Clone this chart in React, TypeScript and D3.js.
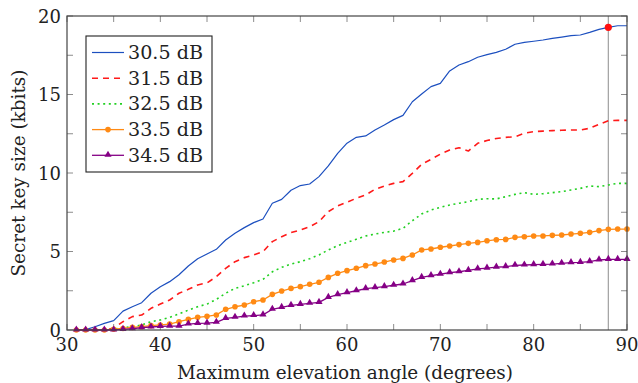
import React, { useEffect, useRef } from 'react';
import * as d3 from 'd3';

// elevation angles 31..90 degrees
const angles = [
  31, 32, 33, 34, 35, 36, 37, 38, 39, 40, 41, 42, 43, 44, 45, 46, 47, 48, 49, 50,
  51, 52, 53, 54, 55, 56, 57, 58, 59, 60, 61, 62, 63, 64, 65, 66, 67, 68, 69, 70,
  71, 72, 73, 74, 75, 76, 77, 78, 79, 80, 81, 82, 83, 84, 85, 86, 87, 88, 89, 90,
];

const s305 = [
  0, 0.02, 0.21, 0.42, 0.6, 1.2, 1.48, 1.74, 2.34, 2.76, 3.08, 3.52, 4.08, 4.54, 4.84, 5.14, 5.73, 6.16, 6.52, 6.84,
  7.07, 8.07, 8.32, 8.9, 9.2, 9.3, 9.77, 10.45, 11.25, 11.9, 12.27, 12.36, 12.74, 13.06, 13.4, 13.67, 14.54, 15.03, 15.5, 15.71,
  16.5, 16.88, 17.09, 17.37, 17.54, 17.68, 17.88, 18.2, 18.32, 18.39, 18.47, 18.58, 18.66, 18.75, 18.79, 18.96, 19.15, 19.28, 19.38, 19.38,
];
const s315 = [
  0, 0, 0, 0, 0.12, 0.53, 0.85, 0.95, 1.38, 1.65, 1.91, 2.34, 2.59, 2.87, 3.0, 3.4, 3.93, 4.35, 4.61, 4.78,
  4.99, 5.63, 5.94, 6.2, 6.37, 6.58, 6.9, 7.54, 7.9, 8.14, 8.39, 8.6, 8.96, 9.17, 9.34, 9.45, 9.98, 10.55, 10.87, 11.2,
  11.46, 11.61, 11.4, 11.89, 12.07, 12.2, 12.27, 12.31, 12.53, 12.63, 12.67, 12.7, 12.72, 12.74, 12.74, 12.85, 13.1, 13.33, 13.35, 13.35,
];
const s325 = [
  0, 0, 0, 0, 0.05, 0.15, 0.21, 0.32, 0.53, 0.64, 0.81, 1.02, 1.27, 1.48, 1.65, 1.95, 2.34, 2.65, 2.82, 3.01,
  3.23, 3.71, 3.99, 4.2, 4.35, 4.54, 4.78, 5.1, 5.37, 5.58, 5.78, 5.99, 6.11, 6.22, 6.3, 6.48, 6.96, 7.39, 7.64, 7.81,
  7.96, 8.07, 8.17, 8.32, 8.36, 8.35, 8.49, 8.64, 8.75, 8.64, 8.68, 8.75, 8.81, 8.92, 9.02, 9.17, 9.13, 9.24, 9.34, 9.34,
];
const s335 = [
  0, 0, 0, 0, 0.05, 0.1, 0.17, 0.21, 0.28, 0.32, 0.38, 0.53, 0.68, 0.81, 0.87, 0.96, 1.32, 1.48, 1.59, 1.8,
  1.91, 2.27, 2.48, 2.65, 2.76, 2.91, 3.04, 3.35, 3.61, 3.78, 3.93, 4.1, 4.2, 4.33, 4.46, 4.56, 4.78, 5.1, 5.16, 5.27,
  5.35, 5.44, 5.52, 5.58, 5.68, 5.75, 5.77, 5.9, 5.94, 5.99, 5.99, 6.03, 6.05, 6.11, 6.16, 6.22, 6.33, 6.41, 6.43, 6.43,
];
const s345 = [
  0, 0, 0, 0, 0, 0.04, 0.08, 0.15, 0.19, 0.23, 0.25, 0.25, 0.38, 0.42, 0.44, 0.49, 0.74, 0.81, 0.89, 0.92,
  0.96, 1.32, 1.44, 1.57, 1.63, 1.7, 1.76, 2.08, 2.25, 2.38, 2.5, 2.63, 2.7, 2.76, 2.85, 2.93, 3.14, 3.35, 3.46, 3.55,
  3.65, 3.71, 3.8, 3.89, 3.94, 4.0, 4.03, 4.12, 4.14, 4.16, 4.18, 4.2, 4.25, 4.29, 4.31, 4.35, 4.46, 4.5, 4.5, 4.5,
];

const seriesNames = ['30.5 dB', '31.5 dB', '32.5 dB', '33.5 dB', '34.5 dB'];
const markedAngle = 88;

const xTicks = [30, 35, 40, 45, 50, 55, 60, 65, 70, 75, 80, 85, 90];
const xLabels = [30, 40, 50, 60, 70, 80, 90];
const yTicks = [0, 2.5, 5, 7.5, 10, 12.5, 15, 17.5, 20];
const yLabels = [0, 5, 10, 15, 20];

const W = 638;
const H = 383;
const font = "'DejaVu Serif', 'Liberation Serif', serif";

export default function App() {
  const svgRef = useRef<SVGSVGElement>(null);

  useEffect(() => {
    document.body.style.margin = '0';
    const svg = d3.select(svgRef.current);
    svg.selectAll('*').remove();

    const left = 67, right = 627, top = 16, bottom = 330;
    const x = d3.scaleLinear().domain([30, 90]).range([left, right]);
    const y = d3.scaleLinear().domain([0, 20]).range([bottom, top]);

    const styles = [
      { data: s305, color: '#1c4fbf', width: 1.2, dash: null, mark: null },
      { data: s315, color: '#ff1a1a', width: 1.6, dash: '6,5', mark: null },
      { data: s325, color: '#22d022', width: 1.6, dash: '2,3.6', mark: null },
      { data: s335, color: '#ff8a14', width: 1.3, dash: null, mark: 'circle' },
      { data: s345, color: '#850085', width: 1.3, dash: null, mark: 'triangle' },
    ];

    const g = svg.append('g').style('font-family', font).style('font-size', '18px');

    // ticks (inside, mirrored)
    const tickLen = 6;
    xTicks.forEach(t => {
      g.append('line').attr('x1', x(t)).attr('x2', x(t)).attr('y1', bottom).attr('y2', bottom - tickLen)
        .attr('stroke', '#8c8c8c').attr('stroke-width', 1);
      g.append('line').attr('x1', x(t)).attr('x2', x(t)).attr('y1', top).attr('y2', top + tickLen)
        .attr('stroke', '#8c8c8c').attr('stroke-width', 1);
    });
    yTicks.forEach(t => {
      g.append('line').attr('x1', left).attr('x2', left + tickLen).attr('y1', y(t)).attr('y2', y(t))
        .attr('stroke', '#8c8c8c').attr('stroke-width', 1);
      g.append('line').attr('x1', right).attr('x2', right - tickLen).attr('y1', y(t)).attr('y2', y(t))
        .attr('stroke', '#8c8c8c').attr('stroke-width', 1);
    });

    // vertical marker line
    g.append('line')
      .attr('x1', x(markedAngle)).attr('x2', x(markedAngle))
      .attr('y1', top).attr('y2', bottom)
      .attr('stroke', '#a0a0a0').attr('stroke-width', 1.2);

    const line = d3.line<number>()
      .x((_, i) => x(angles[i]))
      .y(d => y(d));

    styles.forEach(s => {
      g.append('path')
        .attr('d', line(s.data))
        .attr('fill', 'none')
        .attr('stroke', s.color)
        .attr('stroke-width', s.width)
        .attr('stroke-dasharray', s.dash)
        .attr('stroke-linejoin', 'round');
      if (s.mark === 'circle') {
        g.selectAll(null).data(s.data).enter().append('circle')
          .attr('cx', (_, i) => x(angles[i])).attr('cy', d => y(d)).attr('r', 2.8)
          .attr('fill', s.color);
      }
      if (s.mark === 'triangle') {
        const tri = d3.symbol().type(d3.symbolTriangle).size(22);
        g.selectAll(null).data(s.data).enter().append('path')
          .attr('d', tri())
          .attr('transform', (d, i) => `translate(${x(angles[i])},${y(d) - 0.5})`)
          .attr('fill', s.color);
      }
    });

    // highlighted point
    const mi = angles.indexOf(markedAngle);
    g.append('circle').attr('cx', x(markedAngle)).attr('cy', y(s305[mi])).attr('r', 3.6).attr('fill', '#ff1010');

    // frame
    g.append('rect').attr('x', left).attr('y', top).attr('width', right - left).attr('height', bottom - top)
      .attr('fill', 'none').attr('stroke', '#444').attr('stroke-width', 1.2);

    // tick labels
    xLabels.forEach(t => {
      g.append('text').attr('x', x(t)).attr('y', 351).attr('text-anchor', 'middle')
        .attr('fill', '#222').text(t);
    });
    yLabels.forEach(t => {
      g.append('text').attr('x', 61).attr('y', y(t) + 6.5).attr('text-anchor', 'end')
        .attr('fill', '#222').text(t);
    });

    // axis titles
    g.append('text').attr('x', 345).attr('y', 379).attr('text-anchor', 'middle')
      .attr('fill', '#222').attr('textLength', 336).attr('lengthAdjust', 'spacingAndGlyphs')
      .text('Maximum elevation angle (degrees)');
    g.append('text').attr('transform', `translate(25,${(top + bottom) / 2}) rotate(-90)`)
      .attr('text-anchor', 'middle')
      .attr('fill', '#222').attr('textLength', 207).attr('lengthAdjust', 'spacingAndGlyphs')
      .text('Secret key size (kbits)');

    // legend
    const lg = g.append('g');
    lg.append('rect').attr('x', 86).attr('y', 36).attr('width', 126).attr('height', 136)
      .attr('fill', 'white').attr('stroke', '#222').attr('stroke-width', 1.1);
    styles.forEach((s, i) => {
      const ly = 52.5 + i * 25.7;
      lg.append('line').attr('x1', 92).attr('x2', 124).attr('y1', ly).attr('y2', ly)
        .attr('stroke', s.color).attr('stroke-width', s.width).attr('stroke-dasharray', s.dash);
      if (s.mark === 'circle') {
        lg.append('circle').attr('cx', 108).attr('cy', ly).attr('r', 2.8).attr('fill', s.color);
      }
      if (s.mark === 'triangle') {
        lg.append('path').attr('d', d3.symbol().type(d3.symbolTriangle).size(22)())
          .attr('transform', `translate(108,${ly - 0.5})`).attr('fill', s.color);
      }
      lg.append('text').attr('x', 128).attr('y', ly + 6.5)
        .attr('fill', '#222').attr('textLength', 75).attr('lengthAdjust', 'spacingAndGlyphs')
        .text(seriesNames[i]);
    });
  }, []);

  return (
    <svg ref={svgRef} width={W} height={H}
      style={{ position: 'absolute', left: 0, top: 0, background: 'white' }} />
  );
}
